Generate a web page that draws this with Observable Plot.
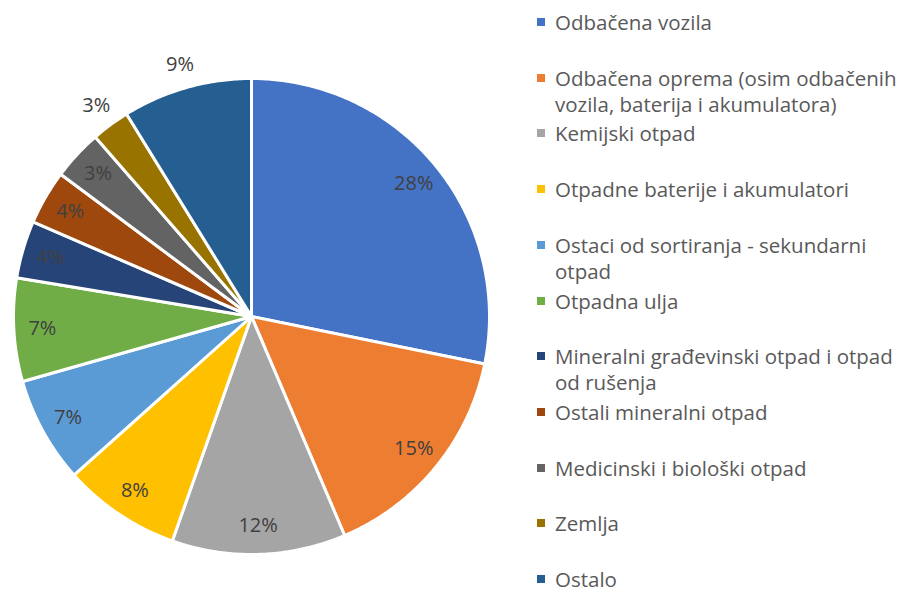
<!DOCTYPE html>
<html>
<head>
<meta charset="utf-8">
<script src="https://cdn.jsdelivr.net/npm/d3@7"></script>
<script src="https://cdn.jsdelivr.net/npm/@observablehq/plot@0.6"></script>
<style>
  body { margin: 0; background: #fff; font-family: "Open Sans", Lato, sans-serif; }
  #wrap { position: relative; width: 904px; height: 592px; overflow: hidden; }
  #legend { position: absolute; left: 0; top: 0; }
  .item { position: absolute; left: 555px; font-size: 20.5px; color: #595959; white-space: nowrap; }
  .sw { position: absolute; width: 8px; height: 8px; }
</style>
</head>
<body>
<div id="wrap"><div id="chart"></div><div id="legend"></div></div>
<script>
const categories = [
  "Odbačena vozila",
  "Odbačena oprema (osim odbačenih vozila, baterija i akumulatora)",
  "Kemijski otpad",
  "Otpadne baterije i akumulatori",
  "Ostaci od sortiranja - sekundarni otpad",
  "Otpadna ulja",
  "Mineralni građevinski otpad i otpad od rušenja",
  "Ostali mineralni otpad",
  "Medicinski i biološki otpad",
  "Zemlja",
  "Ostalo"
];
const legendLines = [
  ["Odbačena vozila"],
  ["Odbačena oprema (osim odbačenih", "vozila, baterija i akumulatora)"],
  ["Kemijski otpad"],
  ["Otpadne baterije i akumulatori"],
  ["Ostaci od sortiranja - sekundarni", "otpad"],
  ["Otpadna ulja"],
  ["Mineralni građevinski otpad i otpad", "od rušenja"],
  ["Ostali mineralni otpad"],
  ["Medicinski i biološki otpad"],
  ["Zemlja"],
  ["Ostalo"]
];
const values = [28.2, 15.4, 11.8, 8.0, 7.2, 7.0, 3.9, 3.7, 3.4, 2.6, 8.8];
const labels = ["28%", "15%", "12%", "8%", "7%", "7%", "4%", "4%", "3%", "3%", "9%"];
const outside = [false, false, false, false, false, false, false, false, false, true, true];
const colors = ["#4472C4", "#ED7D31", "#A5A5A5", "#FFC000", "#5B9BD5", "#70AD47", "#264478", "#9E480E", "#636363", "#997300", "#255E91"];

const arcs = d3.pie().sort(null).value(d => d)(values);
const pts = [];
const labs = [];
arcs.forEach((a, i) => {
  const cat = categories[i];
  pts.push({cat, x: 0, y: 0});
  const n = Math.max(4, Math.ceil((a.endAngle - a.startAngle) / 0.01));
  for (let k = 0; k <= n; k++) {
    const t = a.startAngle + (a.endAngle - a.startAngle) * k / n;
    pts.push({cat, x: Math.sin(t), y: Math.cos(t)});
  }
  pts.push({cat, x: 0, y: 0});
  const mid = (a.startAngle + a.endAngle) / 2;
  const r = outside[i] ? 1.1 : 0.88;
  labs.push({x: r * Math.sin(mid), y: r * Math.cos(mid), text: labels[i]});
});

const chart = Plot.plot({
  width: 904,
  height: 592,
  margin: 0,
  style: {fontFamily: "'Open Sans', Lato, sans-serif", background: "white"},
  x: {domain: [-1, 1], range: [13, 489], axis: null},
  y: {domain: [-1, 1], range: [554, 78], axis: null},
  color: {domain: categories, range: colors},
  marks: [
    Plot.line(pts, {x: "x", y: "y", z: "cat", fill: "cat", stroke: "white", strokeWidth: 3, strokeLinejoin: "round"}),
    Plot.text(labs, {x: "x", y: "y", text: "text", fill: "#404040", fontSize: 20})
  ]
});
document.getElementById("chart").appendChild(chart);

const leg = document.getElementById("legend");
legendLines.forEach((lines, i) => {
  const yc = 22 + 55.7 * i;
  const lh = lines.length > 1 ? 26 : 20;
  const sw = document.createElement("div");
  sw.className = "sw";
  sw.style.left = "537px";
  sw.style.top = (yc - 4) + "px";
  sw.style.background = colors[i];
  leg.appendChild(sw);
  const it = document.createElement("div");
  it.className = "item";
  it.style.lineHeight = lh + "px";
  it.style.top = (yc - lh / 2) + "px";
  it.innerHTML = lines.join("<br>");
  leg.appendChild(it);
});
</script>
</body>
</html>
